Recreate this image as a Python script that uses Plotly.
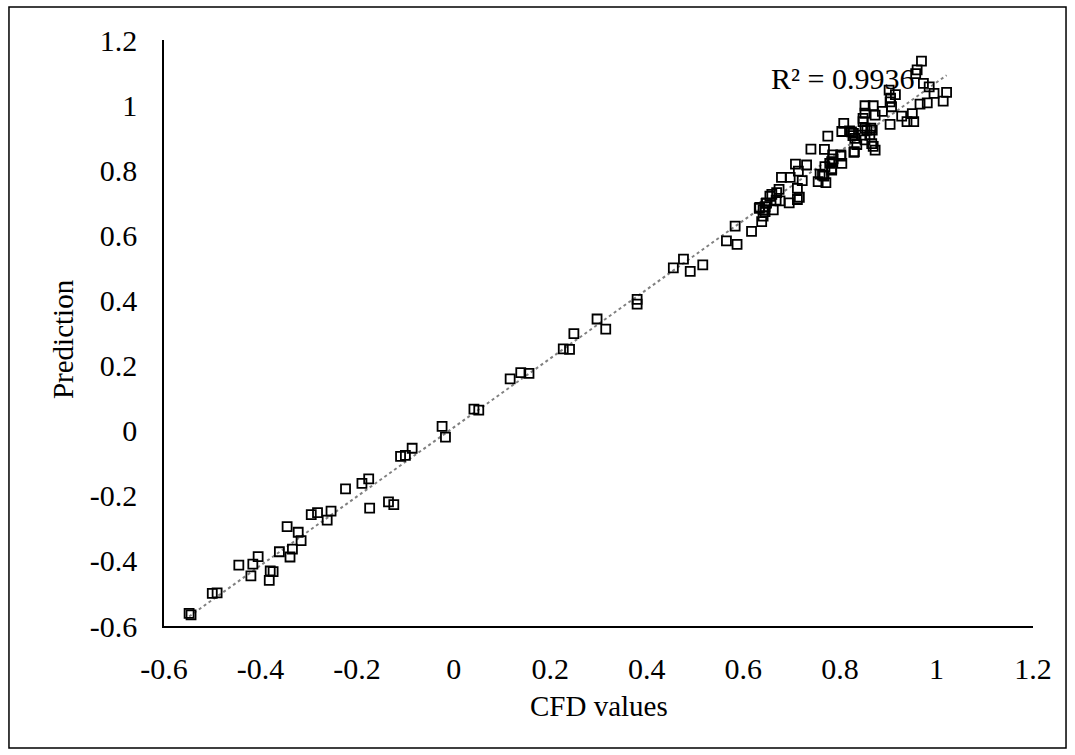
import numpy as np
import plotly.graph_objects as go

# CFD values (x) and Prediction (y)
cfd = [
    -0.548, -0.544, -0.50, -0.49, -0.445, -0.42, -0.416, -0.405, -0.382, -0.38,
    -0.374, -0.361, -0.345, -0.339, -0.334, -0.322, -0.316, -0.295, -0.282, -0.262,
    -0.254, -0.224, -0.19, -0.176, -0.174, -0.135, -0.124, -0.11, -0.10, -0.086,
    -0.024, -0.017, 0.042, 0.052, 0.117, 0.139, 0.156, 0.227, 0.24, 0.249,
    0.297, 0.315, 0.38, 0.38, 0.455, 0.476, 0.49, 0.516, 0.565, 0.587,
    0.583, 0.617,
    0.638, 0.641, 0.633, 0.634, 0.645, 0.641, 0.662, 0.647, 0.645, 0.648,
    0.655, 0.659, 0.669, 0.668, 0.676, 0.695, 0.716, 0.674, 0.712, 0.679,
    0.697, 0.722, 0.708, 0.731, 0.714, 0.712, 0.74, 0.775, 0.768, 0.759,
    0.767, 0.771, 0.755, 0.769, 0.764, 0.779, 0.783, 0.783, 0.783, 0.785,
    0.802, 0.804, 0.786, 0.802, 0.804, 0.808, 0.82, 0.828, 0.827, 0.824,
    0.83, 0.829, 0.835, 0.831, 0.852, 0.845, 0.862, 0.852, 0.864, 0.856,
    0.867, 0.866, 0.869, 0.873, 0.848, 0.848, 0.852, 0.852, 0.869, 0.873,
    0.888, 0.904, 0.928, 0.939, 0.953, 0.95, 0.907, 0.904, 0.905, 0.902,
    0.915, 0.966, 0.981, 1.014, 1.021, 0.995, 0.985, 0.973, 0.957, 0.96,
    0.969,
]
prediction = [
    -0.561, -0.566, -0.50, -0.498, -0.413, -0.446, -0.41, -0.387, -0.46, -0.431,
    -0.433, -0.372, -0.295, -0.388, -0.364, -0.312, -0.338, -0.258, -0.252, -0.275,
    -0.247, -0.179, -0.162, -0.148, -0.238, -0.219, -0.227, -0.079, -0.076, -0.054,
    0.013, -0.020, 0.066, 0.063, 0.159, 0.178, 0.176, 0.251, 0.25, 0.298,
    0.343, 0.312, 0.403, 0.389, 0.50, 0.527, 0.489, 0.509, 0.583, 0.572,
    0.628, 0.612,
    0.642, 0.659, 0.683, 0.686, 0.673, 0.678, 0.678, 0.698, 0.688, 0.70,
    0.72, 0.726, 0.731, 0.708, 0.706, 0.70, 0.717, 0.741, 0.744, 0.778,
    0.778, 0.768, 0.819, 0.816, 0.797, 0.710, 0.865, 0.905, 0.864, 0.788,
    0.782, 0.762, 0.765, 0.811, 0.785, 0.821, 0.80, 0.826, 0.805, 0.847,
    0.847, 0.821, 0.835, 0.843, 0.919, 0.944, 0.921, 0.913, 0.906, 0.918,
    0.857, 0.855, 0.879, 0.898, 0.893, 0.908, 0.908, 0.929, 0.929, 0.923,
    0.923, 0.882, 0.873, 0.862, 0.949, 0.959, 0.975, 0.998, 0.998, 0.969,
    0.981, 0.941, 0.966, 0.949, 0.949, 0.974, 0.995, 1.010, 1.021, 1.046,
    1.032, 1.003, 1.007, 1.012, 1.039, 1.036, 1.056, 1.067, 1.097, 1.108,
    1.135,
]
r2_label = "R² = 0.9936"
tick_vals = [-0.6, -0.4, -0.2, 0, 0.2, 0.4, 0.6, 0.8, 1, 1.2]
tick_text = ["-0.6", "-0.4", "-0.2", "0", "0.2", "0.4", "0.6", "0.8", "1", "1.2"]

x = np.array(cfd)
y = np.array(prediction)
slope, intercept = np.polyfit(x, y, 1)
tx = np.array([x.min(), x.max()])
ty = slope * tx + intercept

FONT = "Liberation Serif, Times New Roman, serif"

fig = go.Figure()
fig.add_trace(go.Scatter(
    x=tx, y=ty, mode="lines",
    line=dict(color="#808080", width=2, dash="dot"),
    hoverinfo="skip", showlegend=False,
))
fig.add_trace(go.Scatter(
    x=cfd, y=prediction, mode="markers",
    marker=dict(symbol="square-open", size=9, color="black",
                line=dict(color="black", width=1.8)),
    showlegend=False,
))

axis_common = dict(
    showgrid=False, zeroline=False, showline=True, linecolor="black",
    linewidth=1.5, ticks="", tickvals=tick_vals, ticktext=tick_text,
    tickfont=dict(family=FONT, size=30, color="black"),
    range=[-0.6, 1.2],
)
fig.update_xaxes(**axis_common, ticklabelstandoff=15)
fig.update_yaxes(**axis_common, ticklabelstandoff=19)

fig.update_layout(
    width=1075, height=755,
    margin=dict(l=164, r=42, t=40, b=129),
    plot_bgcolor="white", paper_bgcolor="white",
    font=dict(family=FONT, color="black"),
    annotations=[
        dict(text="CFD values", xref="paper", yref="paper", x=0.5, y=-0.137,
             xanchor="center", yanchor="middle", showarrow=False,
             font=dict(family=FONT, size=29, color="black")),
        dict(text="Prediction", xref="paper", yref="paper", x=-0.116, y=0.49,
             xanchor="center", yanchor="middle", showarrow=False, textangle=-90,
             font=dict(family=FONT, size=29, color="black")),
        dict(text=r2_label, xref="x", yref="y", x=0.654, y=1.083,
             xanchor="left", yanchor="middle", showarrow=False,
             font=dict(family=FONT, size=30, color="black")),
    ],
    shapes=[
        dict(type="rect", xref="paper", yref="paper",
             x0=-0.1784, x1=1.038, y0=-0.2082, y1=1.0563,
             line=dict(color="black", width=1.5), layer="below"),
    ],
)

fig.write_html("out.html")
